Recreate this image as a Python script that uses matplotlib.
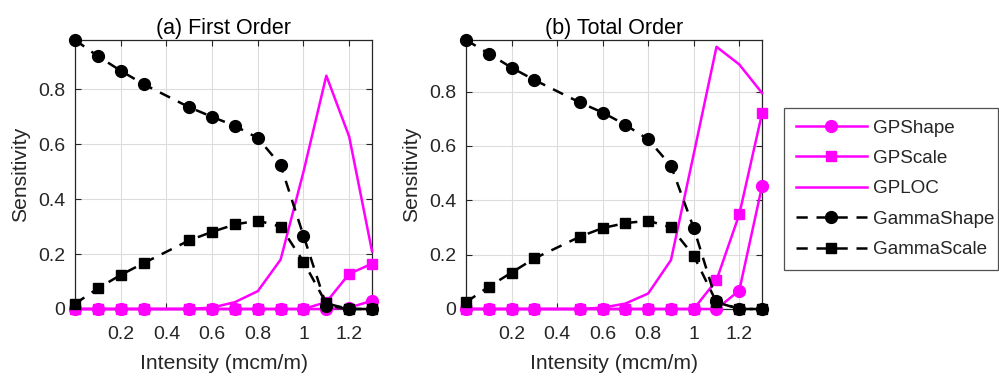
import matplotlib
matplotlib.use("Agg")
import matplotlib.pyplot as plt
from matplotlib.lines import Line2D

plt.rcParams['font.family'] = ['Liberation Sans', 'DejaVu Sans']

intensity = [0, 0.1, 0.2, 0.3, 0.5, 0.6, 0.7, 0.8, 0.9, 1.0, 1.1, 1.2, 1.3]

# (a) First Order
fo_gp_shape = [0, 0, 0, 0, 0, 0, 0, 0, 0, 0, 0, 0.005, 0.03]
fo_gp_scale = [0, 0, 0, 0, 0, 0, 0, 0, 0, 0, 0.025, 0.128, 0.165]
fo_gp_loc = [0, 0, 0, 0, 0, 0.005, 0.025, 0.065, 0.18, 0.5, 0.85, 0.628, 0.21]
fo_gamma_shape = [0.98, 0.921, 0.868, 0.819, 0.735, 0.70, 0.667, 0.623, 0.524, 0.267, 0.012, 0.0, 0.0]
fo_gamma_scale = [0.019, 0.075, 0.124, 0.167, 0.25, 0.281, 0.308, 0.322, 0.30, 0.172, 0.02, 0.0, 0.0]

# (b) Total Order
to_gp_shape = [0, 0, 0, 0, 0, 0, 0, 0, 0, 0, 0, 0.068, 0.452]
to_gp_scale = [0, 0, 0, 0, 0, 0, 0, 0, 0, 0, 0.106, 0.348, 0.72]
to_gp_loc = [0, 0, 0, 0, 0, 0.005, 0.02, 0.057, 0.18, 0.57, 0.965, 0.9, 0.795]
to_gamma_shape = [0.99, 0.94, 0.888, 0.843, 0.76, 0.723, 0.678, 0.624, 0.527, 0.298, 0.028, 0.0, 0.0]
to_gamma_scale = [0.025, 0.082, 0.134, 0.186, 0.266, 0.298, 0.316, 0.325, 0.30, 0.196, 0.025, 0.0, 0.0]

series_labels = ['GPShape', 'GPScale', 'GPLOC', 'GammaShape', 'GammaScale']
titles = ['(a) First Order', '(b) Total Order']
xlabel = 'Intensity (mcm/m)'
ylabel = 'Sensitivity'
xticks = [0.2, 0.4, 0.6, 0.8, 1.0, 1.2]
xticklabels = ['0.2', '0.4', '0.6', '0.8', '1', '1.2']
yticks = [0, 0.2, 0.4, 0.6, 0.8]
yticklabels = ['0', '0.2', '0.4', '0.6', '0.8']
ytops = [0.98, 0.99]

MAG = '#ff00ff'
TXT = '#262626'

fig = plt.figure(figsize=(9.99, 3.77), dpi=100)
axes = [fig.add_axes([0.0751, 0.1804, 0.2973, 0.7135]),
        fig.add_axes([0.4665, 0.1804, 0.2963, 0.7135])]

data = [(fo_gp_shape, fo_gp_scale, fo_gp_loc, fo_gamma_shape, fo_gamma_scale),
        (to_gp_shape, to_gp_scale, to_gp_loc, to_gamma_shape, to_gamma_scale)]

styles = [dict(color=MAG, ls='-', marker='o', ms=8.5, lw=1.8),
          dict(color=MAG, ls='-', marker='s', ms=6.5, lw=1.8),
          dict(color=MAG, ls='-', marker=None, lw=1.8),
          dict(color='black', ls=(0, (4.5, 3.5)), marker='o', ms=8.5, lw=1.8),
          dict(color='black', ls=(0, (4.5, 3.5)), marker='s', ms=6.5, lw=1.8)]

for ax, d, t, yt in zip(axes, data, titles, ytops):
    for i in range(5):
        ax.plot(intensity, d[i], label=series_labels[i], clip_on=False, zorder=3, **styles[i])
    ax.set_xlim(0, 1.3)
    ax.set_ylim(0, yt)
    ax.set_xticks(xticks)
    ax.set_xticklabels(xticklabels)
    ax.set_yticks(yticks)
    ax.set_yticklabels(yticklabels)
    ax.grid(True, color='#dcdcdc', lw=0.8)
    ax.set_axisbelow(True)
    ax.tick_params(direction='in', top=True, right=True, labelsize=14, colors=TXT,
                   length=4, width=0.8)
    ax.tick_params(axis='x', pad=12)
    ax.tick_params(axis='y', pad=7)
    for s in ax.spines.values():
        s.set_color(TXT)
        s.set_linewidth(0.9)
    ax.set_title(t, fontsize=15.5, color='black', pad=4)
    ax.set_xlabel(xlabel, fontsize=15.2, color=TXT, labelpad=8)
    ax.set_ylabel(ylabel, fontsize=15.2, color=TXT, labelpad=6)

handles = [Line2D([], [], **styles[i]) for i in range(5)]
leg = fig.legend(handles, series_labels, loc='upper left',
                 bbox_to_anchor=(0.785, 0.2891, 0.214, 0.4244), mode='expand',
                 fontsize=13.6, frameon=True, fancybox=False, edgecolor=TXT,
                 handlelength=3.8, handletextpad=0.3, labelspacing=0.7,
                 borderpad=0.6, borderaxespad=0)
leg.get_frame().set_linewidth(0.9)
for txt in leg.get_texts():
    txt.set_color(TXT)

fig.savefig('out.png', dpi=100)
